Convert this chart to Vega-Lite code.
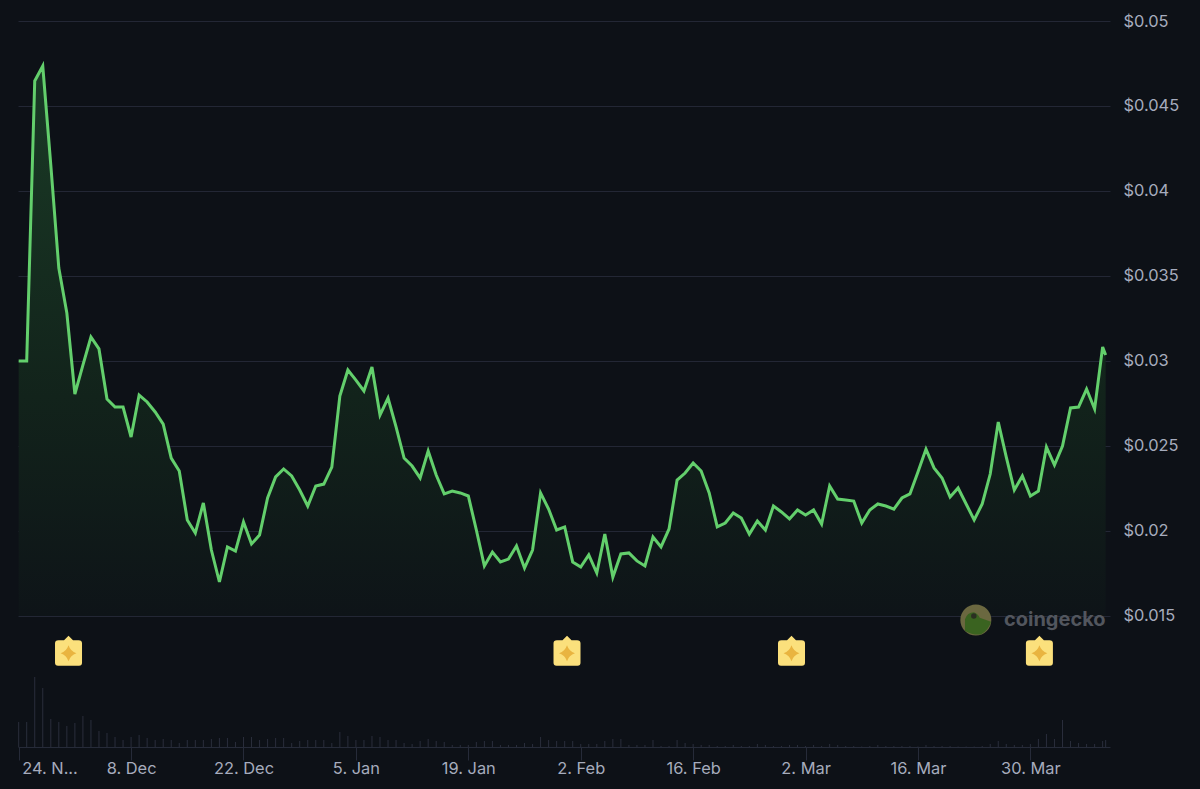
{
  "$schema": "https://vega.github.io/schema/vega-lite/v6.json",
  "width": 1092,
  "height": 726,
  "autosize": "none",
  "padding": {"left": 18, "top": 21, "right": 90, "bottom": 42},
  "background": "#0d1117",
  "view": {"stroke": null},
  "config": {"font": "Inter"},
  "datasets": {
    "prices": [
      {"date":"2024-11-24","price":0.0300,"volume":25},{"date":"2024-11-25","price":0.0300,"volume":25},{"date":"2024-11-26","price":0.04647,"volume":70},{"date":"2024-11-27","price":0.04735,"volume":59},{"date":"2024-11-28","price":0.04153,"volume":28},{"date":"2024-11-29","price":0.03547,"volume":25},{"date":"2024-11-30","price":0.03282,"volume":21},
      {"date":"2024-12-01","price":0.02806,"volume":24},{"date":"2024-12-02","price":0.02976,"volume":31},{"date":"2024-12-03","price":0.03141,"volume":27},{"date":"2024-12-04","price":0.03071,"volume":16},{"date":"2024-12-05","price":0.02776,"volume":14},{"date":"2024-12-06","price":0.02729,"volume":10},{"date":"2024-12-07","price":0.02729,"volume":7},{"date":"2024-12-08","price":0.02553,"volume":10},{"date":"2024-12-09","price":0.0280,"volume":12},{"date":"2024-12-10","price":0.02759,"volume":9},{"date":"2024-12-11","price":0.0270,"volume":7},{"date":"2024-12-12","price":0.02629,"volume":8},{"date":"2024-12-13","price":0.02429,"volume":7},{"date":"2024-12-14","price":0.02353,"volume":4},{"date":"2024-12-15","price":0.02065,"volume":7},{"date":"2024-12-16","price":0.01988,"volume":7},{"date":"2024-12-17","price":0.02165,"volume":7},{"date":"2024-12-18","price":0.01888,"volume":8},{"date":"2024-12-19","price":0.0170,"volume":9},{"date":"2024-12-20","price":0.01906,"volume":9},{"date":"2024-12-21","price":0.01882,"volume":5},{"date":"2024-12-22","price":0.02053,"volume":10},{"date":"2024-12-23","price":0.01924,"volume":10},{"date":"2024-12-24","price":0.01976,"volume":7},{"date":"2024-12-25","price":0.02194,"volume":8},{"date":"2024-12-26","price":0.02318,"volume":9},{"date":"2024-12-27","price":0.02365,"volume":9},{"date":"2024-12-28","price":0.02324,"volume":4},{"date":"2024-12-29","price":0.02241,"volume":6},{"date":"2024-12-30","price":0.02147,"volume":7},{"date":"2024-12-31","price":0.02265,"volume":7},
      {"date":"2025-01-01","price":0.02276,"volume":7},{"date":"2025-01-02","price":0.02376,"volume":4},{"date":"2025-01-03","price":0.02794,"volume":15},{"date":"2025-01-04","price":0.02947,"volume":11},{"date":"2025-01-05","price":0.02888,"volume":7},{"date":"2025-01-06","price":0.02824,"volume":7},{"date":"2025-01-07","price":0.02965,"volume":11},{"date":"2025-01-08","price":0.02682,"volume":10},{"date":"2025-01-09","price":0.02782,"volume":7},{"date":"2025-01-10","price":0.02612,"volume":7},{"date":"2025-01-11","price":0.02429,"volume":4},{"date":"2025-01-12","price":0.02382,"volume":3},{"date":"2025-01-13","price":0.02312,"volume":6},{"date":"2025-01-14","price":0.02471,"volume":8},{"date":"2025-01-15","price":0.02329,"volume":6},{"date":"2025-01-16","price":0.02218,"volume":5},{"date":"2025-01-17","price":0.02235,"volume":2},{"date":"2025-01-18","price":0.02224,"volume":2},{"date":"2025-01-19","price":0.02206,"volume":2},{"date":"2025-01-20","price":0.02006,"volume":5},{"date":"2025-01-21","price":0.01794,"volume":6},{"date":"2025-01-22","price":0.01876,"volume":6},{"date":"2025-01-23","price":0.01818,"volume":2},{"date":"2025-01-24","price":0.01835,"volume":2},{"date":"2025-01-25","price":0.01912,"volume":2},{"date":"2025-01-26","price":0.01782,"volume":4},{"date":"2025-01-27","price":0.01888,"volume":3},{"date":"2025-01-28","price":0.02224,"volume":10},{"date":"2025-01-29","price":0.02129,"volume":7},{"date":"2025-01-30","price":0.02006,"volume":6},{"date":"2025-01-31","price":0.02024,"volume":6},
      {"date":"2025-02-01","price":0.01818,"volume":6},{"date":"2025-02-02","price":0.01788,"volume":3},{"date":"2025-02-03","price":0.01859,"volume":3},{"date":"2025-02-04","price":0.01753,"volume":3},{"date":"2025-02-05","price":0.01982,"volume":6},{"date":"2025-02-06","price":0.01729,"volume":8},{"date":"2025-02-07","price":0.01865,"volume":8},{"date":"2025-02-08","price":0.01871,"volume":2},{"date":"2025-02-09","price":0.01824,"volume":2},{"date":"2025-02-10","price":0.01794,"volume":2},{"date":"2025-02-11","price":0.01965,"volume":7},{"date":"2025-02-12","price":0.01906,"volume":1},{"date":"2025-02-13","price":0.02012,"volume":1},{"date":"2025-02-14","price":0.0230,"volume":7},{"date":"2025-02-15","price":0.02341,"volume":4},{"date":"2025-02-16","price":0.0240,"volume":3},{"date":"2025-02-17","price":0.02353,"volume":2},{"date":"2025-02-18","price":0.02224,"volume":2},{"date":"2025-02-19","price":0.02024,"volume":1},{"date":"2025-02-20","price":0.02047,"volume":1},{"date":"2025-02-21","price":0.02106,"volume":2},{"date":"2025-02-22","price":0.02076,"volume":1},{"date":"2025-02-23","price":0.01982,"volume":1},{"date":"2025-02-24","price":0.02059,"volume":3},{"date":"2025-02-25","price":0.02006,"volume":2},{"date":"2025-02-26","price":0.02147,"volume":1},{"date":"2025-02-27","price":0.02112,"volume":1},{"date":"2025-02-28","price":0.02071,"volume":2},
      {"date":"2025-03-01","price":0.02124,"volume":2},{"date":"2025-03-02","price":0.02094,"volume":1},{"date":"2025-03-03","price":0.02124,"volume":2},{"date":"2025-03-04","price":0.02041,"volume":1},{"date":"2025-03-05","price":0.02265,"volume":3},{"date":"2025-03-06","price":0.02188,"volume":2},{"date":"2025-03-07","price":0.02182,"volume":1},{"date":"2025-03-08","price":0.02176,"volume":1},{"date":"2025-03-09","price":0.02047,"volume":0.5},{"date":"2025-03-10","price":0.02124,"volume":1},{"date":"2025-03-11","price":0.02159,"volume":2},{"date":"2025-03-12","price":0.02147,"volume":1},{"date":"2025-03-13","price":0.02129,"volume":1},{"date":"2025-03-14","price":0.02194,"volume":1},{"date":"2025-03-15","price":0.02218,"volume":1},{"date":"2025-03-16","price":0.02347,"volume":0.5},{"date":"2025-03-17","price":0.02482,"volume":2},{"date":"2025-03-18","price":0.02371,"volume":1},{"date":"2025-03-19","price":0.02312,"volume":1},{"date":"2025-03-20","price":0.0220,"volume":1},{"date":"2025-03-21","price":0.02253,"volume":0.5},{"date":"2025-03-22","price":0.02159,"volume":0.5},{"date":"2025-03-23","price":0.02065,"volume":0.5},{"date":"2025-03-24","price":0.02159,"volume":1},{"date":"2025-03-25","price":0.02335,"volume":3},{"date":"2025-03-26","price":0.02641,"volume":6},{"date":"2025-03-27","price":0.02435,"volume":3},{"date":"2025-03-28","price":0.02241,"volume":2},{"date":"2025-03-29","price":0.02324,"volume":2},{"date":"2025-03-30","price":0.02206,"volume":3},{"date":"2025-03-31","price":0.02235,"volume":8},
      {"date":"2025-04-01","price":0.02494,"volume":13},{"date":"2025-04-02","price":0.02388,"volume":8},{"date":"2025-04-03","price":0.0250,"volume":27},{"date":"2025-04-04","price":0.02724,"volume":6},{"date":"2025-04-05","price":0.02729,"volume":4},{"date":"2025-04-06","price":0.02835,"volume":3},{"date":"2025-04-07","price":0.02718,"volume":3},{"date":"2025-04-08","price":0.03082,"volume":6},{"date":"2025-04-08T09:00:00Z","price":0.03035,"volume":7}
    ],
    "events": [
      {"date":"2024-11-30T05:00:00Z"},
      {"date":"2025-01-31T07:00:00Z"},
      {"date":"2025-02-28T06:00:00Z"},
      {"date":"2025-03-31T03:00:00Z"}
    ]
  },
  "layer": [
    {
      "layer": [
        {
          "data": {"name": "prices"},
          "mark": {
            "type": "area",
            "line": false,
            "color": {
              "x1": 0, "y1": 0, "x2": 0, "y2": 1,
              "gradient": "linear",
              "stops": [
                {"offset": 0, "color": "#1a3b26"},
                {"offset": 0.6, "color": "#12231b"},
                {"offset": 1, "color": "#0e1418"}
              ]
            }
          },
          "encoding": {
            "x": {
              "field": "date",
              "type": "temporal",
              "title": null,
              "scale": {
                "type": "utc",
                "padding": 0,
                "domain": [
                  {"year": 2024, "month": 11, "date": 23, "hours": 22, "utc": true},
                  {"year": 2025, "month": 4, "date": 8, "hours": 22, "utc": true}
                ]
              },
              "axis": {
                "values": [
                  {"year": 2024, "month": 11, "date": 24, "utc": true},
                  {"year": 2024, "month": 12, "date": 8, "utc": true},
                  {"year": 2024, "month": 12, "date": 22, "utc": true},
                  {"year": 2025, "month": 1, "date": 5, "utc": true},
                  {"year": 2025, "month": 1, "date": 19, "utc": true},
                  {"year": 2025, "month": 2, "date": 2, "utc": true},
                  {"year": 2025, "month": 2, "date": 16, "utc": true},
                  {"year": 2025, "month": 3, "date": 2, "utc": true},
                  {"year": 2025, "month": 3, "date": 16, "utc": true},
                  {"year": 2025, "month": 3, "date": 30, "utc": true}
                ],
                "labelExpr": "utcmonth(datum.value) == 10 ? '24. N...' : utcFormat(datum.value, '%-d. %b')",
                "labelAlign": {"condition": {"test": "utcmonth(datum.value) == 10", "value": "left"}, "value": "center"},
                "labelOffset": {"condition": {"test": "utcmonth(datum.value) == 10", "value": 3}, "value": 0},
                "labelBound": false,
                "labelFlush": false,
                "labelOverlap": false,
                "labelFont": "Inter",
                "labelFontSize": 16.4,
                "labelColor": "#a6acbd",
                "labelPadding": 0,
                "tickColor": "#262b39",
                "tickSize": 13,
                "tickWidth": 1,
                "domainColor": "#262b39",
                "domainWidth": 1,
                "grid": false
              }
            },
            "y": {
              "field": "price",
              "type": "quantitative",
              "title": null,
              "scale": {"domain": [0.0072941, 0.05], "nice": false, "zero": false},
              "axis": {
                "orient": "right",
                "values": [0.015, 0.02, 0.025, 0.03, 0.035, 0.04, 0.045, 0.05],
                "format": "$.3~f",
                "ticks": false,
                "domain": false,
                "grid": true,
                "gridColor": "#232735",
                "gridWidth": 1,
                "labelFont": "Inter",
                "labelFontSize": 16.4,
                "labelColor": "#a6acbd",
                "labelPadding": 13
              }
            },
            "y2": {"datum": 0.015}
          }
        },
        {
          "data": {"name": "prices"},
          "mark": {"type": "line", "color": "#63cf6c", "strokeWidth": 3, "strokeJoin": "miter"},
          "encoding": {
            "x": {"field": "date", "type": "temporal"},
            "y": {"field": "price", "type": "quantitative"}
          }
        },
        {
          "data": {"name": "events"},
          "mark": {
            "type": "point",
            "filled": true,
            "opacity": 1,
            "size": 900,
            "color": "#fbe07c",
            "shape": "M0,-1 L0.3,-0.7 L0.67,-0.7 Q0.9,-0.7 0.9,-0.5 L0.9,0.8 Q0.9,1 0.7,1 L-0.7,1 Q-0.9,1 -0.9,0.8 L-0.9,-0.5 Q-0.9,-0.7 -0.67,-0.7 L-0.3,-0.7 Z"
          },
          "encoding": {
            "x": {"field": "date", "type": "temporal"},
            "y": {"datum": 0.01296}
          }
        },
        {
          "data": {"name": "events"},
          "mark": {
            "type": "point",
            "filled": true,
            "opacity": 1,
            "size": 900,
            "color": "#e9b440",
            "shape": "M0,-0.36 Q0.13,0.04 0.53,0.17 Q0.13,0.3 0,0.7 Q-0.13,0.3 -0.53,0.17 Q-0.13,0.04 0,-0.36 Z"
          },
          "encoding": {
            "x": {"field": "date", "type": "temporal"},
            "y": {"datum": 0.01296}
          }
        },
        {
          "data": {"values": [{"date": "2025-03-23T05:00:00Z"}]},
          "mark": {"type": "point", "filled": true, "opacity": 1, "size": 961, "color": "#6b6840"},
          "encoding": {
            "x": {"field": "date", "type": "temporal"},
            "y": {"datum": 0.01476}
          }
        },
        {
          "data": {"values": [{"date": "2025-03-23T05:00:00Z"}]},
          "mark": {
            "type": "point",
            "filled": true,
            "opacity": 1,
            "size": 961,
            "color": "#3a6320",
            "shape": "M-0.7,0.7 L-0.7,-0.05 Q-0.55,-0.5 -0.12,-0.5 Q0.15,-0.4 0.25,-0.15 L0.98,0.1 Q0.85,0.6 0.32,0.93 Q-0.2,0.98 -0.7,0.7 Z"
          },
          "encoding": {
            "x": {"field": "date", "type": "temporal"},
            "y": {"datum": 0.01476}
          }
        },
        {
          "data": {"values": [{"date": "2025-03-22T23:00:00Z"}]},
          "mark": {"type": "point", "filled": true, "opacity": 1, "size": 30, "color": "#2b2f22"},
          "encoding": {
            "x": {"field": "date", "type": "temporal"},
            "y": {"datum": 0.01500}
          }
        },
        {
          "data": {"values": [{"date": "2025-03-26T17:00:00Z", "label": "coingecko"}]},
          "mark": {"type": "text", "align": "left", "baseline": "middle", "font": "Inter", "fontWeight": 700, "fontSize": 20, "color": "#52565e"},
          "encoding": {
            "x": {"field": "date", "type": "temporal"},
            "y": {"datum": 0.01476},
            "text": {"field": "label"}
          }
        }
      ]
    },
    {
      "data": {"name": "prices"},
      "mark": {"type": "bar", "width": 1, "color": "#2a2e3c"},
      "encoding": {
        "x": {"field": "date", "type": "temporal"},
        "y": {
          "field": "volume",
          "type": "quantitative",
          "scale": {"domain": [0, 726], "nice": false},
          "axis": null
        }
      }
    }
  ],
  "resolve": {"scale": {"y": "independent"}}
}
